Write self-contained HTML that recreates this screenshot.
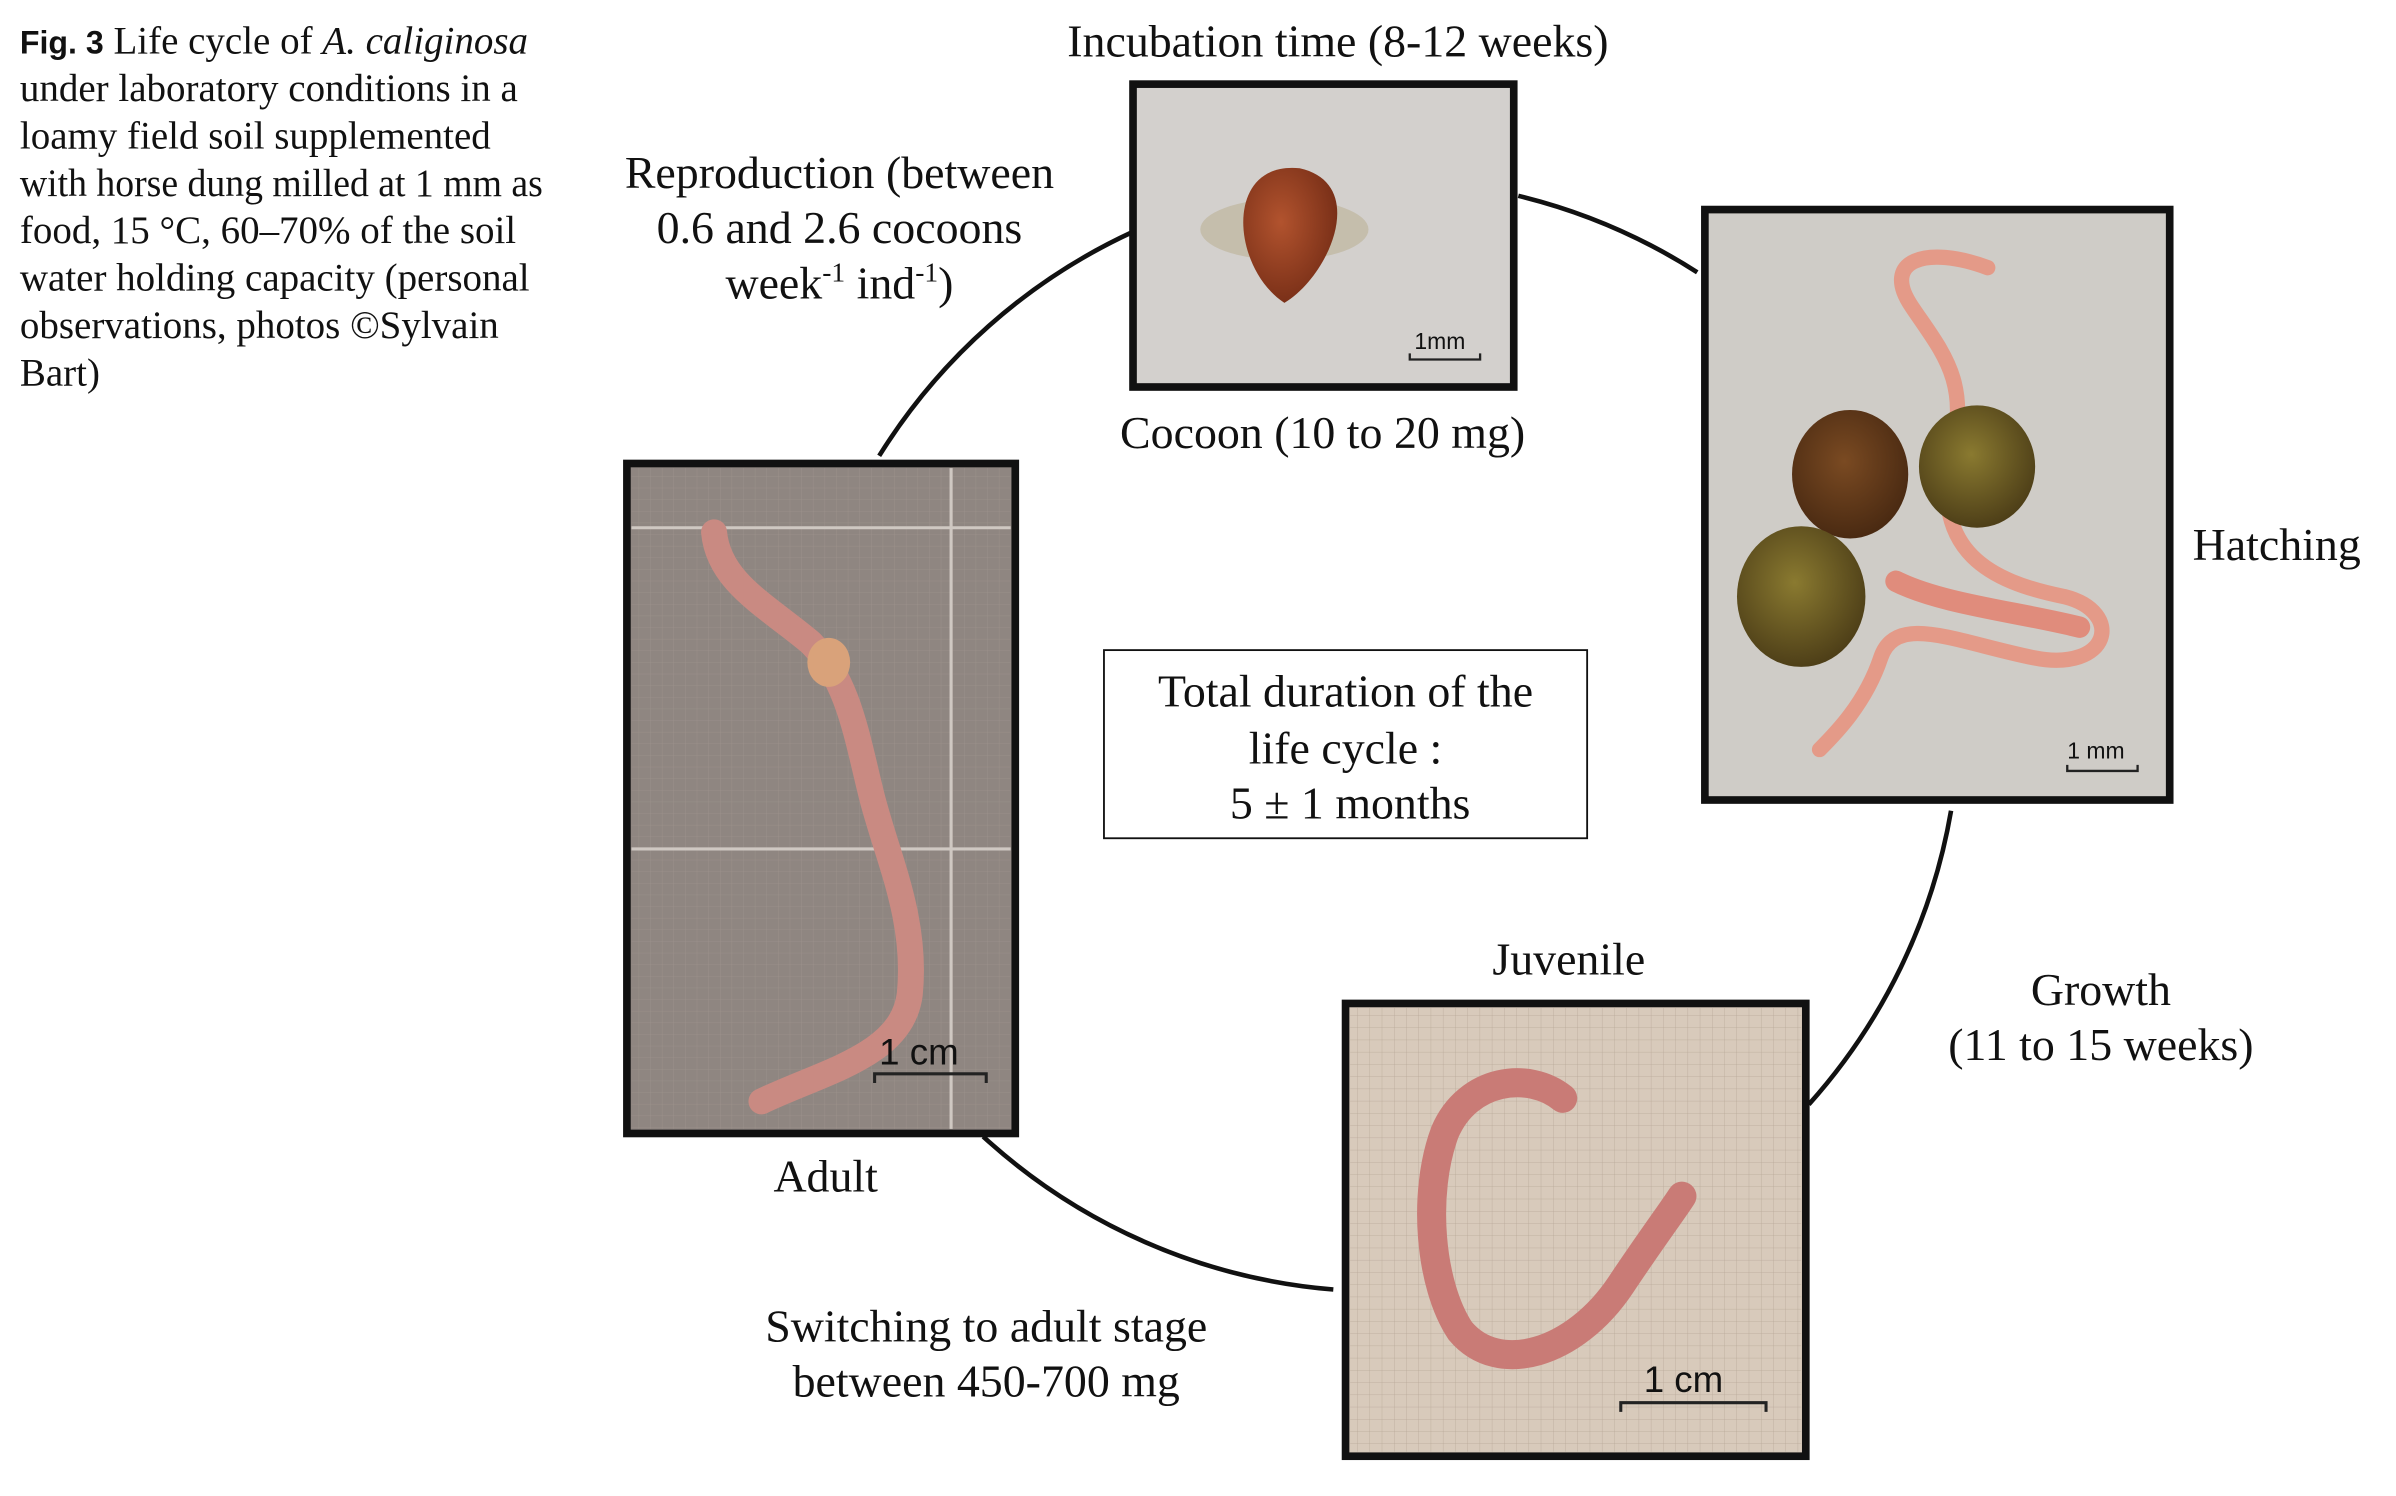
<!DOCTYPE html>
<html><head><meta charset="utf-8"><style>
html,body{margin:0;padding:0;background:#fff;}
svg{display:block;}
text{font-family:"Liberation Serif",serif;fill:#111;}
text.sans{font-family:"Liberation Sans",sans-serif;}
</style></head><body>
<svg width="2396" height="1496" viewBox="0 0 1567 978" preserveAspectRatio="none" xmlns="http://www.w3.org/2000/svg">
<defs>
<pattern id="grid1" width="7.6" height="7.6" patternUnits="userSpaceOnUse"><path d="M7.6 0V7.6H0" fill="none" stroke="#a89c94" stroke-width="0.5"/></pattern>
<pattern id="grid3" width="8" height="8" patternUnits="userSpaceOnUse"><path d="M8 0V8H0" fill="none" stroke="#b8a898" stroke-width="0.5"/></pattern>
<radialGradient id="egg" cx="0.4" cy="0.4" r="0.6"><stop offset="0" stop-color="#b2532e"/><stop offset="1" stop-color="#7a3018"/></radialGradient>
<radialGradient id="ball" cx="0.45" cy="0.4" r="0.6"><stop offset="0" stop-color="#8a7a30"/><stop offset="1" stop-color="#4e3f18"/></radialGradient>
<radialGradient id="ballr" cx="0.45" cy="0.4" r="0.6"><stop offset="0" stop-color="#7a4a22"/><stop offset="1" stop-color="#4a2a12"/></radialGradient>
</defs>

<g font-size="25.5">
<text x="13" y="35"><tspan style="font-family:'Liberation Sans',sans-serif" font-weight="bold" font-size="21">Fig. 3</tspan>  Life cycle of <tspan font-style="italic">A. caliginosa</tspan></text>
<text x="13" y="66">under laboratory conditions in a</text>
<text x="13" y="97">loamy field soil supplemented</text>
<text x="13" y="128" textLength="342" lengthAdjust="spacingAndGlyphs">with horse dung milled at 1 mm as</text>
<text x="13" y="159">food, 15 °C, 60–70% of the soil</text>
<text x="13" y="190">water holding capacity (personal</text>
<text x="13" y="221">observations, photos ©Sylvain</text>
<text x="13" y="252">Bart)</text>
</g>

<g fill="none" stroke="#111" stroke-width="3">
<path d="M575 298 A385 385 0 0 1 740 152"/>
<path d="M993 128 A385 385 0 0 1 1110 178"/>
<path d="M1276 530 A385 385 0 0 1 1183 722"/>
<path d="M872 843 A385 385 0 0 1 643 743"/>
</g>

<g>
<rect x="741" y="55" width="249" height="198" fill="#d3d0cd" stroke="#111" stroke-width="5"/>
<ellipse cx="840" cy="150" rx="55" ry="20" fill="#b8ab8c" opacity="0.5"/>
<path d="M850 110 C800 105 805 175 840 198 C870 180 895 120 850 110Z" fill="url(#egg)"/>
<text class="sans" x="925" y="228" font-size="15">1mm</text>
<path d="M922 231V235H968V231" fill="none" stroke="#222" stroke-width="1.5"/>
</g>

<g>
<rect x="1115" y="137" width="304" height="386" fill="#cfccc7" stroke="#111" stroke-width="5"/>
<path d="M1300 175 C1260 160 1230 170 1250 200 C1270 230 1290 250 1275 300 C1265 360 1300 380 1350 390 C1390 400 1380 440 1330 430 C1280 420 1240 400 1230 430 C1220 460 1200 480 1190 490" fill="none" stroke="#e49a88" stroke-width="10" stroke-linecap="round"/>
<path d="M1240 380 C1270 395 1320 400 1360 410" fill="none" stroke="#e08c7c" stroke-width="14" stroke-linecap="round"/>
<ellipse cx="1210" cy="310" rx="38" ry="42" fill="url(#ballr)"/>
<ellipse cx="1293" cy="305" rx="38" ry="40" fill="url(#ball)"/>
<ellipse cx="1178" cy="390" rx="42" ry="46" fill="url(#ball)"/>
<text class="sans" x="1352" y="496" font-size="15">1 mm</text>
<path d="M1352 500V504H1398V500" fill="none" stroke="#222" stroke-width="1.5"/>
</g>

<g>
<rect x="880" y="656" width="301" height="296" fill="#d8cabb" stroke="#111" stroke-width="5"/>
<rect x="883" y="659" width="295" height="290" fill="url(#grid3)"/>
<path d="M1022 718 C1000 700 960 705 945 740 C930 780 935 840 955 870 C980 900 1030 885 1060 840 C1080 810 1095 790 1100 782" fill="none" stroke="#c97b76" stroke-width="19" stroke-linecap="round"/>
<text class="sans" x="1075" y="910" font-size="24">1 cm</text>
<path d="M1060 923V917H1155V923" fill="none" stroke="#222" stroke-width="2"/>
</g>

<g>
<rect x="410" y="303" width="254" height="438" fill="#8f8681" stroke="#111" stroke-width="5"/>
<rect x="413" y="306" width="248" height="432" fill="url(#grid1)" opacity="0.6"/>
<g stroke="#cfc8c2" stroke-width="2">
<line x1="413" y1="345" x2="661" y2="345"/>
<line x1="413" y1="555" x2="661" y2="555"/>
<line x1="622" y1="306" x2="622" y2="738"/>
</g>
<path d="M467 348 C470 380 500 395 530 420 C555 445 560 480 570 520 C580 560 600 600 595 650 C590 690 540 700 498 720" fill="none" stroke="#c98a82" stroke-width="17" stroke-linecap="round"/>
<ellipse cx="542" cy="433" rx="14" ry="16" fill="#d9a27a"/>
<text class="sans" x="575" y="696" font-size="24">1 cm</text>
<path d="M572 708V702H645V708" fill="none" stroke="#222" stroke-width="2"/>
</g>

<g font-size="30" text-anchor="middle">
<text x="875" y="37">Incubation time (8-12 weeks)</text>
<text x="865" y="293">Cocoon (10 to 20 mg)</text>
<text x="549" y="123">Reproduction (between</text>
<text x="549" y="159">0.6 and 2.6 cocoons</text>
<text x="549" y="195">week<tspan font-size="18" dy="-11">-1</tspan><tspan dy="11"> ind</tspan><tspan font-size="18" dy="-11">-1</tspan><tspan dy="11">)</tspan></text>
<text x="1489" y="366">Hatching</text>
<text x="1374" y="657">Growth</text>
<text x="1374" y="693">(11 to 15 weeks)</text>
<text x="1026" y="637">Juvenile</text>
<text x="540" y="779">Adult</text>
<text x="645" y="877">Switching to adult stage</text>
<text x="645" y="913">between 450-700 mg</text>
</g>

<g>
<rect x="722" y="425" width="316" height="123" fill="#fff" stroke="#111" stroke-width="1.2"/>
<g font-size="30" text-anchor="middle">
<text x="880" y="462">Total duration of the</text>
<text x="880" y="499">life cycle :</text>
<text x="883" y="535">5 ± 1 months</text>
</g>
</g>
</svg>
</body></html>
